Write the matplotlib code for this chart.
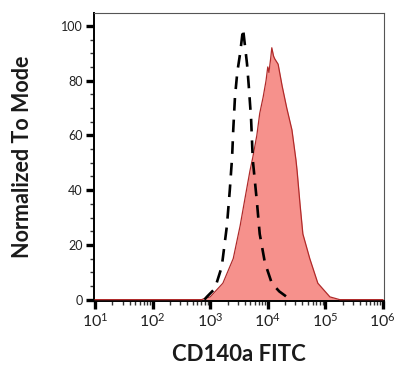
import numpy as np
import matplotlib
matplotlib.use("Agg")
import matplotlib.pyplot as plt
from matplotlib.ticker import FixedLocator, FuncFormatter

# --- data (x as log10 of fluorescence) ---
iso_log = [2.90, 2.94, 3.08, 3.20, 3.29, 3.34, 3.38, 3.40, 3.43, 3.47, 3.52, 3.57,
           3.64, 3.67, 3.71, 3.73, 3.74, 3.81, 3.86, 3.95, 4.07, 4.20, 4.33, 4.45]
iso_val = [0, 1, 4, 12, 27, 40, 52, 62, 74, 83, 90, 99,
           86, 78, 66, 56, 51, 36, 24, 13.5, 6, 3, 1, 0]

cd_log = [1.00, 2.85, 2.91, 3.00, 3.22, 3.40, 3.52, 3.60, 3.69, 3.74, 3.81, 3.86,
          3.92, 3.97, 4.00, 4.02, 4.05, 4.07, 4.10, 4.12, 4.15, 4.18, 4.25, 4.33,
          4.42, 4.49, 4.51, 4.56, 4.61, 4.73, 4.87, 5.08, 5.25, 6.00]
cd_val = [0, 0, 0.5, 1, 6, 15, 27, 36.5, 47, 52, 60, 68,
          74, 80, 85, 83, 88, 92, 89, 88, 87, 86, 78, 70,
          62, 51, 47, 35, 24, 15, 6, 1, 0, 0]

decades = [1, 2, 3, 4, 5, 6]
y_major = [0, 20, 40, 60, 80, 100]

plt.rcParams['font.family'] = ['Lato', 'DejaVu Sans']
plt.rcParams['mathtext.fontset'] = 'custom'
plt.rcParams['mathtext.rm'] = 'Lato'
plt.rcParams['mathtext.it'] = 'Lato'

fig = plt.figure(figsize=(4.0, 3.77), dpi=100)
ax = fig.add_axes([94 / 400, 1 - 301 / 377, 290 / 400, 288 / 377])

cd_x = 10 ** np.array(cd_log)
iso_x = 10 ** np.array(iso_log)

# CD140a stained sample (filled)
ax.fill_between(cd_x, cd_val, 0, color='#f6918c', linewidth=0, zorder=2)
ax.plot(cd_x, cd_val, color='#b02a2a', linewidth=0.9, zorder=3)

# isotype control (dashed)
ax.plot(iso_x, iso_val, color='black', linewidth=1.9, linestyle=(0, (4.8, 3.4)), zorder=4)

ax.set_xscale('log')
ax.set_xlim(10 ** 0.98, 10 ** 6.02)
ax.set_ylim(-0.5, 104.7)

# ticks
ax.xaxis.set_major_locator(FixedLocator([10 ** d for d in decades]))
minors = [m * 10 ** d for d in decades[:-1] for m in range(2, 10)]
ax.xaxis.set_minor_locator(FixedLocator(minors))
ax.xaxis.set_major_formatter(FuncFormatter(lambda v, p: r'$10^{%d}$' % round(np.log10(v))))
ax.xaxis.set_minor_formatter(FuncFormatter(lambda v, p: ''))

ax.yaxis.set_major_locator(FixedLocator(y_major))
ax.yaxis.set_minor_locator(FixedLocator(np.arange(0, 105, 5)))

ax.tick_params(axis='both', which='major', direction='out', length=6, width=2.4,
               color='black', labelcolor='#222222')
ax.tick_params(axis='both', which='minor', direction='out', length=3, width=1.0,
               color='#333333')
ax.tick_params(axis='x', which='major', pad=2, labelsize=11.5)
ax.tick_params(axis='y', which='major', pad=2, labelsize=9)

for s in ['left', 'bottom']:
    ax.spines[s].set_linewidth(1.4)
    ax.spines[s].set_color('black')
for s in ['top', 'right']:
    ax.spines[s].set_linewidth(0.8)
    ax.spines[s].set_color('#555555')

ax.set_xlabel('CD140a FITC', fontsize=16, fontweight='bold', color='#1a1a1a', labelpad=10)
ax.set_ylabel('Normalized To Mode', fontsize=15.5, fontweight='bold', color='#1a1a1a', labelpad=20)

fig.savefig('out.png', dpi=100, facecolor='white')
